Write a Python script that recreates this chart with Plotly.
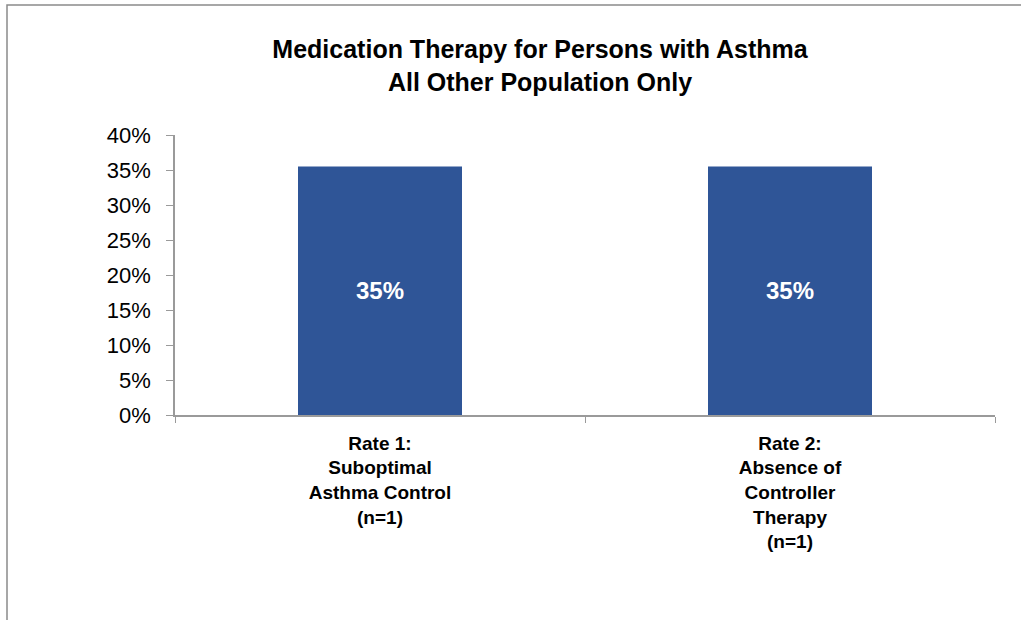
import plotly.graph_objects as go

# Chart data
categories = [
    "Rate 1:<br>Suboptimal<br>Asthma Control<br>(n=1)",
    "Rate 2:<br>Absence of<br>Controller<br>Therapy<br>(n=1)",
]
rates = [0.355, 0.355]
rate_labels = ["35%", "35%"]

title_lines = ["Medication Therapy for Persons with Asthma", "All Other Population Only"]

FONT = "Liberation Sans, Arial, sans-serif"
BAR_COLOR = "#2F5597"
AXIS_COLOR = "#9a9a9a"

fig = go.Figure(
    go.Bar(
        x=categories,
        y=rates,
        text=rate_labels,
        textposition="inside",
        insidetextanchor="middle",
        textfont=dict(family=FONT, size=24, color="white", weight="bold"),
        marker=dict(color=BAR_COLOR, line=dict(width=0)),
        hoverinfo="skip",
    )
)

fig.update_layout(
    width=1021,
    height=620,
    margin=dict(l=175, r=26, t=135, b=205),
    paper_bgcolor="white",
    plot_bgcolor="white",
    bargap=0.6,
    showlegend=False,
    title=dict(
        text="<b>" + "<br>".join(title_lines) + "</b>",
        x=540 / 1021,
        xanchor="center",
        y=1 - 58 / 620,
        yanchor="top",
        font=dict(family=FONT, size=25, color="black"),
    ),
)

fig.update_xaxes(
    showline=True,
    linecolor=AXIS_COLOR,
    linewidth=1.5,
    ticks="outside",
    tickson="boundaries",
    ticklen=6,
    tickcolor=AXIS_COLOR,
    tickfont=dict(family=FONT, size=19, color="black", weight="bold"),
    ticklabelstandoff=10,
    showgrid=False,
)

fig.update_yaxes(
    range=[0, 0.4],
    dtick=0.05,
    tickformat=".0%",
    showline=True,
    linecolor=AXIS_COLOR,
    linewidth=1.5,
    ticks="outside",
    ticklen=7,
    tickcolor=AXIS_COLOR,
    tickfont=dict(family=FONT, size=22, color="black"),
    ticklabelstandoff=11,
    showgrid=False,
    zeroline=False,
)

# Outer chart border (partly off-canvas on the right and bottom)
fig.add_shape(
    type="rect",
    xref="paper",
    yref="paper",
    x0=(7 - 175) / 820,
    x1=(1040 - 175) / 820,
    y0=(415 - 650) / 280,
    y1=(415 - 5) / 280,
    line=dict(color="#8a8a8a", width=1.5),
    fillcolor="rgba(0,0,0,0)",
)

# Drop the browser's default page margin so the figure sits at the window origin
fig.write_html(
    "out.html",
    config={"displayModeBar": False},
    post_script="document.body.style.margin = '0';",
)
